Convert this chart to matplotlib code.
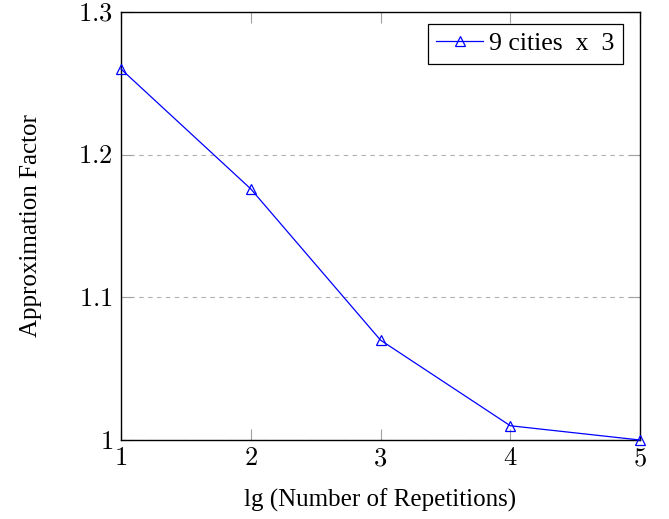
import matplotlib
matplotlib.use("Agg")
import matplotlib.pyplot as plt

# data
reps = [1, 2, 3, 4, 5]
factor = [1.26, 1.176, 1.07, 1.01, 1.0]
xticks = [1, 2, 3, 4, 5]
yticks = [1.0, 1.1, 1.2, 1.3]
ytick_labels = ["1", "1.1", "1.2", "1.3"]

plt.rcParams['font.family'] = 'serif'
plt.rcParams['font.serif'] = ['Liberation Serif', 'DejaVu Serif']
plt.rcParams['mathtext.fontset'] = 'cm'

fig = plt.figure(figsize=(6.69, 5.19), dpi=100)
ax = fig.add_axes([0.1809, 0.1522, 0.7758, 0.8247])

ax.plot(reps, factor, color='blue', linewidth=0.9, marker='^', markersize=7,
        markerfacecolor='none', markeredgecolor='blue', markeredgewidth=0.9,
        label='9 cities  x  3', clip_on=False, zorder=3)

ax.set_xlim(1, 5)
ax.set_ylim(1.0, 1.3)
ax.set_xticks(xticks)
ax.set_xticklabels(["$%d$" % t for t in xticks])
ax.set_yticks(yticks)
ax.set_yticklabels(["$%s$" % t for t in ytick_labels])

ax.yaxis.grid(True, linestyle=(0, (4, 4)), color='#b0b0b0', linewidth=0.8)
ax.set_axisbelow(True)

ax.tick_params(direction='in', length=8, width=0.8, color='#a0a0a0',
               top=True, right=True, labelsize=19, pad=6)
for s in ax.spines.values():
    s.set_linewidth(1.0)

ax.set_xlabel('lg (Number of Repetitions)', fontsize=18, labelpad=13)
ax.set_ylabel('Approximation Factor', fontsize=18, labelpad=26)

leg = ax.legend(loc='upper right', fontsize=18.5, fancybox=False, framealpha=1,
                edgecolor='black', handlelength=1.8, handletextpad=0.25,
                borderpad=0.33, borderaxespad=0,
                bbox_to_anchor=(0.967, 0.972))
leg.get_frame().set_linewidth(0.9)

fig.savefig('out.png', dpi=100)
